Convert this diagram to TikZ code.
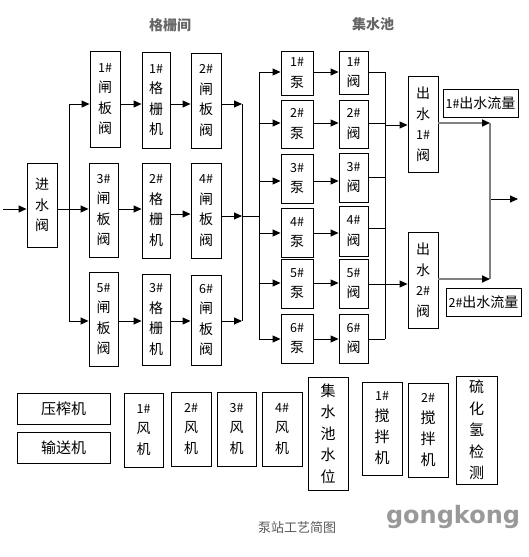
\documentclass[tikz,border=0pt]{standalone}
\usepackage{fontspec}
\setmainfont{Noto Sans CJK SC}
\newfontfamily\wmfont{DejaVu Sans}
\usetikzlibrary{arrows.meta}
\newcommand{\numtag}[1]{{\fontsize{12.5}{12.5}\selectfont #1\#}}
\begin{document}
\begin{tikzpicture}[x=1pt,y=-1pt,
  box/.style={draw, line width=0.9pt, inner sep=0pt, align=center, font=\fontsize{14}{20.5}\selectfont},
  ln/.style={line width=0.9pt},
  arr/.style={line width=0.9pt, -{Triangle[length=8pt,width=7pt]}},
  gl/.style={line width=1.6pt, draw=black!50},
  garr/.style={gl, -{Triangle[length=8pt,width=7pt,color=black]}},
  title/.style={font=\bfseries\fontsize{14}{14}\selectfont, text=black!60}]
\useasboundingbox (0,0) rectangle (528,557);

% titles
\node[title] (t1) at (170,25) {格栅间};
\node[title] (t2) at (373,24) {集水池};

% inlet valve
\node[box, minimum width=30pt, minimum height=84pt] (jin) at (42,205) {进\\水\\阀};

% column 1
\node[box, minimum width=30pt, minimum height=96pt] (z1) at (105,99) {\numtag{1}\\闸\\板\\阀};
\node[box, minimum width=29pt, minimum height=94pt] (z3) at (103.5,210) {\numtag{3}\\闸\\板\\阀};
\node[box, minimum width=29pt, minimum height=94pt] (z5) at (103.5,319) {\numtag{5}\\闸\\板\\阀};
% column 2
\node[box, minimum width=28pt, minimum height=96pt] (s1) at (156,100) {\numtag{1}\\格\\栅\\机};
\node[box, minimum width=28pt, minimum height=95pt] (s2) at (156,210.5) {\numtag{2}\\格\\栅\\机};
\node[box, minimum width=28pt, minimum height=91pt] (s3) at (156,319.5) {\numtag{3}\\格\\栅\\机};
% column 3
\node[box, minimum width=30pt, minimum height=95pt] (z2) at (206,100.5) {\numtag{2}\\闸\\板\\阀};
\node[box, minimum width=30pt, minimum height=95pt] (z4) at (206,210.5) {\numtag{4}\\闸\\板\\阀};
\node[box, minimum width=30pt, minimum height=90pt] (z6) at (206,320) {\numtag{6}\\闸\\板\\阀};

% pumps
\node[box, minimum width=32pt, minimum height=44pt] (p1) at (297,73) {\numtag{1}\\泵};
\node[box, minimum width=32pt, minimum height=48pt] (p2) at (297,124) {\numtag{2}\\泵};
\node[box, minimum width=32pt, minimum height=49pt] (p3) at (297,178.5) {\numtag{3}\\泵};
\node[box, minimum width=32pt, minimum height=49pt] (p4) at (297,232.5) {\numtag{4}\\泵};
\node[box, minimum width=32pt, minimum height=49pt] (p5) at (297,283.5) {\numtag{5}\\泵};
\node[box, minimum width=32pt, minimum height=49pt] (p6) at (297,338.5) {\numtag{6}\\泵};
% valves
\node[box, minimum width=29pt, minimum height=43pt] (v1) at (353.5,72.5) {\numtag{1}\\阀};
\node[box, minimum width=29pt, minimum height=48pt] (v2) at (353.5,124) {\numtag{2}\\阀};
\node[box, minimum width=29pt, minimum height=49pt] (v3) at (353.5,177.5) {\numtag{3}\\阀};
\node[box, minimum width=29pt, minimum height=50pt] (v4) at (353.5,231) {\numtag{4}\\阀};
\node[box, minimum width=29pt, minimum height=49pt] (v5) at (353.5,283.5) {\numtag{5}\\阀};
\node[box, minimum width=29pt, minimum height=49pt] (v6) at (353.5,338.5) {\numtag{6}\\阀};

% outlet valves
\node[box, minimum width=30pt, minimum height=96pt] (o1) at (423,124) {出\\水\\\numtag{1}\\阀};
\node[box, minimum width=30pt, minimum height=96pt] (o2) at (423,280) {出\\水\\\numtag{2}\\阀};
\node[box, minimum width=75pt, minimum height=28pt, font=\fontsize{14}{14}\selectfont] (f1) at (480.5,103) {\numtag{1}出水流量};
\node[box, minimum width=75pt, minimum height=28pt, font=\fontsize{14}{14}\selectfont] (f2) at (483.5,302) {\numtag{2}出水流量};

% bottom row
\node[box, minimum width=93pt, minimum height=31pt, font=\fontsize{15}{15}\selectfont] (yz) at (63.5,408.5) {压榨机};
\node[box, minimum width=93pt, minimum height=31pt, font=\fontsize{15}{15}\selectfont] (ss) at (63.5,447.5) {输送机};
\node[box, minimum width=39pt, minimum height=74pt] (fj1) at (143.5,430) {\numtag{1}\\风\\机};
\node[box, minimum width=40pt, minimum height=74pt] (fj2) at (191,429) {\numtag{2}\\风\\机};
\node[box, minimum width=39pt, minimum height=74pt] (fj3) at (236.5,429) {\numtag{3}\\风\\机};
\node[box, minimum width=40pt, minimum height=74pt] (fj4) at (282,429) {\numtag{4}\\风\\机};
\node[box, minimum width=40pt, minimum height=113pt, font=\fontsize{15}{21.5}\selectfont] (sw) at (328,433.5) {集\\水\\池\\水\\位};
\node[box, minimum width=40pt, minimum height=93pt, font=\fontsize{15}{21}\selectfont] (jb1) at (382,428.5) {\numtag{1}\\搅\\拌\\机};
\node[box, minimum width=40pt, minimum height=94pt, font=\fontsize{15}{21}\selectfont] (jb2) at (428,430) {\numtag{2}\\搅\\拌\\机};
\node[box, minimum width=41pt, minimum height=108pt, font=\fontsize{15}{21.5}\selectfont] (lh) at (476.5,430) {硫\\化\\氢\\检\\测};

% caption and mark
\node[font=\fontsize{13}{13}\selectfont, text=black!65] (cap) at (297,528) {泵站工艺简图};
\node[font=\wmfont\bfseries\fontsize{24}{24}\selectfont, text=black!40] (wm) at (453,517) {gongkong};

% ---- connectors ----
\coordinate (in) at (3,209);
\draw[arr] (in) -- (in -| jin.west);
\coordinate (sp) at (69,209);
\coordinate (spT) at (69,104);
\coordinate (spB) at (69,321);
\draw[ln] (jin.east |- sp) -- (sp);
\draw[ln] (spT) -- (spB);
\draw[arr] (spT) -- (spT -| z1.west);
\draw[arr] (sp) -- (sp -| z3.west);
\draw[arr] (spB) -- (spB -| z5.west);

\coordinate (r2b) at (0,214);
\coordinate (r2c) at (0,217);
\draw[arr] (z1.east |- spT) -- (s1.west |- spT);
\draw[arr] (s1.east |- spT) -- (z2.west |- spT);
\draw[arr] (z3.east |- sp) -- (s2.west |- sp);
\draw[arr] (s2.east |- r2b) -- (z4.west |- r2b);
\draw[arr] (z5.east |- spB) -- (s3.west |- spB);
\draw[arr] (s3.east |- spB) -- (z6.west |- spB);

\coordinate (cT) at (242,104);
\coordinate (cM) at (242,216);
\coordinate (cB) at (242,321);
\draw[arr] (z2.east |- cT) -- (cT);
\draw[arr] (z4.east |- cM) -- (cM);
\draw[arr] (z6.east |- cB) -- (cB);
\draw[ln] (cT) -- (cB);
\coordinate (pb) at (259,216);
\draw[ln] (cM) -- (pb);

\coordinate (pbT) at (259,72);
\coordinate (pbB) at (259,339);
\draw[ln] (pbT) -- (pbB);
\foreach \n/\y in {1/72,2/123,3/181,4/233,5/283,6/339}{
  \draw[arr] (259,\y) -- (p\n.west |- 0,\y);
  \draw[arr] (p\n.east |- 0,\y) -- (v\n.west |- 0,\y);
}
\foreach \n/\y in {1/72,2/123,3/177,4/228,5/284,6/339}{
  \draw[ln] (v\n.east |- 0,\y) -- (385,\y);
}
\coordinate (vbT) at (385,72);
\coordinate (vbB) at (385,339);
\draw[ln] (vbT) -- (vbB);
\coordinate (vb1) at (385,125);
\coordinate (vb2) at (385,284);
\draw[arr] (vb1) -- (vb1 -| o1.west);
\draw[arr] (vb2) -- (vb2 -| o2.west);

\coordinate (g1) at (490,123);
\coordinate (g2) at (490,279);
\draw[garr] (o1.east |- g1) -- (g1);
\draw[gl] (g1) -- (g2);
\draw[garr] (o2.east |- g2) -- (g2);
\coordinate (go) at (491,199);
\coordinate (out) at (518,199);
\draw[arr] (go) -- (out);
\end{tikzpicture}
\end{document}
